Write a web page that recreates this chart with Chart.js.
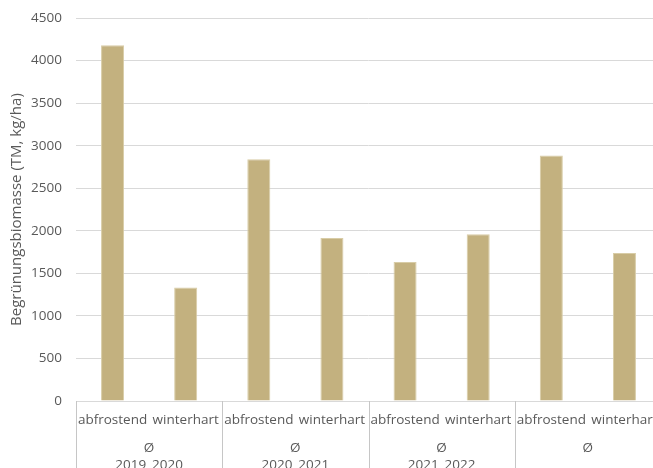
<!DOCTYPE html>
<html>
<head>
<meta charset="utf-8">
<script src="https://cdn.jsdelivr.net/npm/chart.js@4"></script>
<style>
  html, body { margin: 0; padding: 0; background: #fff; overflow: hidden; }
  #wrap { position: relative; width: 670px; height: 480px; }
</style>
</head>
<body>
<div id="wrap"><canvas id="chart"></canvas></div>
<script>
const subLabels = ['abfrostend', 'winterhart', 'abfrostend', 'winterhart', 'abfrostend', 'winterhart', 'abfrostend', 'winterhart'];
const groupLabels = [['Ø', '2019_2020'], ['Ø', '2020_2021'], ['Ø', '2021_2022'], ['Ø']];
const biomasse = [4180, 1335, 2840, 1915, 1635, 1960, 2885, 1740];
const yTicks = [0, 500, 1000, 1500, 2000, 2500, 3000, 3500, 4000, 4500];

const textColor = '#595959';
const gridColor = '#d9d9d9';
const fontFamily = '"Open Sans", "Liberation Sans", sans-serif';

// vertical lines between the year groups, below the axis
const groupSeparators = {
  id: 'groupSeparators',
  afterDraw(chart) {
    const x = chart.scales.x;
    const ctx = chart.ctx;
    ctx.save();
    ctx.strokeStyle = '#c6c6c6';
    ctx.lineWidth = 1;
    for (let i = 0; i <= subLabels.length; i += 2) {
      const px = Math.round(x.getPixelForValue(i - 0.5)) + 0.5;
      ctx.beginPath();
      ctx.moveTo(px, x.top);
      ctx.lineTo(px, chart.height);
      ctx.stroke();
    }
    ctx.restore();
  }
};

new Chart(document.getElementById('chart'), {
  type: 'bar',
  data: {
    labels: subLabels,
    datasets: [{
      data: biomasse,
      backgroundColor: '#c3b17f',
      borderColor: '#d8cca6',
      borderWidth: 1,
      categoryPercentage: 1,
      barPercentage: 0.315
    }]
  },
  options: {
    responsive: true,
    maintainAspectRatio: false,
    animation: false,
    layout: { padding: { top: 10, right: 9, left: 0, bottom: 0 } },
    plugins: { legend: { display: false }, tooltip: { enabled: false } },
    scales: {
      x: {
        type: 'category',
        offset: true,
        grid: { display: false },
        border: { display: true, color: gridColor },
        ticks: { color: textColor, font: { family: fontFamily, size: 13.5 }, maxRotation: 0, autoSkip: false, padding: 3 },
        afterFit(s) { s.height = 28; }
      },
      x2: {
        type: 'category',
        position: 'bottom',
        labels: groupLabels,
        offset: true,
        grid: { display: false },
        border: { display: false },
        ticks: { color: textColor, font: { family: fontFamily, size: 13.5, lineHeight: 1.25 }, maxRotation: 0, autoSkip: false, padding: 3 },
        afterFit(s) { s.height = 51; }
      },
      y: {
        min: 0,
        max: 4500,
        afterBuildTicks(s) { s.ticks = yTicks.map(v => ({ value: v })); },
        afterFit(s) { s.width = 76; },
        grid: { color: gridColor, drawTicks: true, tickLength: 4, tickColor: 'rgba(0,0,0,0)' },
        border: { display: false },
        ticks: { color: textColor, font: { family: fontFamily, size: 13.5 }, padding: 10, callback: v => String(v) },
        title: { display: true, text: 'Begrünungsbiomasse (TM, kg/ha)', color: textColor, font: { family: fontFamily, size: 15 }, padding: { top: 8, bottom: 0 } }
      }
    }
  },
  plugins: [groupSeparators]
});
</script>
</body>
</html>
